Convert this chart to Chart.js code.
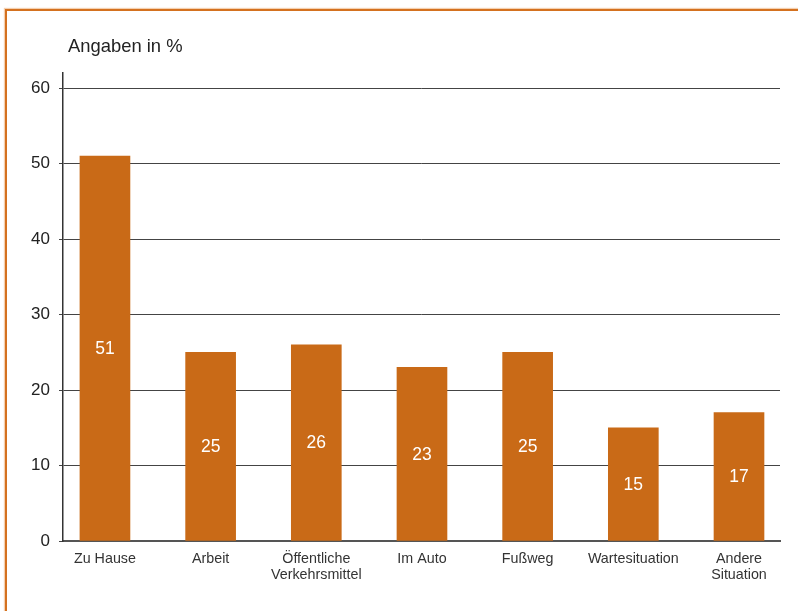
<!DOCTYPE html>
<html>
<head>
<meta charset="utf-8">
<script src="https://cdn.jsdelivr.net/npm/chart.js@4/dist/chart.umd.min.js"></script>
<style>
  html, body { margin: 0; padding: 0; background: #fff; }
  #wrap { position: relative; width: 798px; height: 611px; overflow: hidden; }
  #frame { position: absolute; left: 5px; top: 9px; width: 1000px; height: 1000px;
           border-left: 2px solid #d4711f; border-top: 2px solid #d4711f;
           box-shadow: -1px -1px 1px rgba(230,150,80,0.45); }
  #chart { position: absolute; left: 0; top: 0; }
</style>
</head>
<body>
<div id="wrap">
  <div id="frame"></div>
  <canvas id="chart" width="798" height="611"></canvas>
</div>
<script>
// Categories (multi-line labels), values in percent, y-axis ticks
const categories = [
  ['Zu Hause'],
  ['Arbeit'],
  ['Öffentliche', 'Verkehrsmittel'],
  ['Im Auto'],
  ['Fußweg'],
  ['Wartesituation'],
  ['Andere', 'Situation']
];
const shares = [51, 25, 26, 23, 25, 15, 17];
const yTicks = [0, 10, 20, 30, 40, 50, 60];
const unitLabel = 'Angaben in %';

const FONT = "'Liberation Sans', Arial, Helvetica, sans-serif";
const BAR = '#c96a17';

// White value labels centred inside each bar
const valueLabels = {
  id: 'valueLabels',
  afterDatasetsDraw(chart) {
    const ctx = chart.ctx;
    const meta = chart.getDatasetMeta(0);
    ctx.save();
    ctx.fillStyle = '#ffffff';
    ctx.font = '17.5px ' + FONT;
    ctx.textAlign = 'center';
    ctx.textBaseline = 'middle';
    meta.data.forEach((bar, i) => {
      ctx.fillText(String(shares[i]), bar.x, (bar.y + bar.base) / 2 + 1);
    });
    ctx.restore();
  }
};

// Unit caption above the value axis
const unitCaption = {
  id: 'unitCaption',
  afterDraw(chart) {
    const ctx = chart.ctx;
    ctx.save();
    ctx.fillStyle = '#222222';
    ctx.font = '18.4px ' + FONT;
    ctx.textAlign = 'left';
    ctx.textBaseline = 'middle';
    ctx.fillText(unitLabel, 68, 47);
    ctx.restore();
  }
};

new Chart(document.getElementById('chart'), {
  type: 'bar',
  data: {
    datasets: [{
      data: shares.map((v, i) => ({ x: i, y: v })),
      backgroundColor: BAR,
      borderWidth: 0,
      barThickness: 50
    }]
  },
  options: {
    responsive: false,
    animation: false,
    events: [],
    layout: { padding: { top: 73, right: 18, left: 0, bottom: 0 } },
    plugins: { legend: { display: false }, tooltip: { enabled: false } },
    scales: {
      x: {
        type: 'linear',
        offset: false,
        min: -0.397,
        max: 6.388,
        afterBuildTicks(scale) {
          scale.ticks = categories.map((c, i) => ({ value: i }));
        },
        afterFit(scale) { scale.height = 70; },
        grid: { display: false, drawTicks: false },
        border: { display: true, color: '#555555', width: 2 },
        ticks: {
          autoSkip: false,
          maxRotation: 0,
          padding: 10,
          color: '#333333',
          font: { family: FONT, size: 14.3, lineHeight: 1.12 },
          callback: (v) => categories[v]
        }
      },
      y: {
        min: 0,
        max: 62,
        afterBuildTicks(scale) {
          scale.ticks = yTicks.map(v => ({ value: v }));
        },
        afterFit(scale) { scale.width = 63; },
        grid: { color: '#444444', lineWidth: 1, tickLength: 4, drawTicks: true },
        border: { display: true, color: '#333333', width: 1.5 },
        ticks: {
          padding: 9,
          color: '#222222',
          font: { family: FONT, size: 17 }
        }
      }
    }
  },
  plugins: [valueLabels, unitCaption]
});
</script>
</body>
</html>
